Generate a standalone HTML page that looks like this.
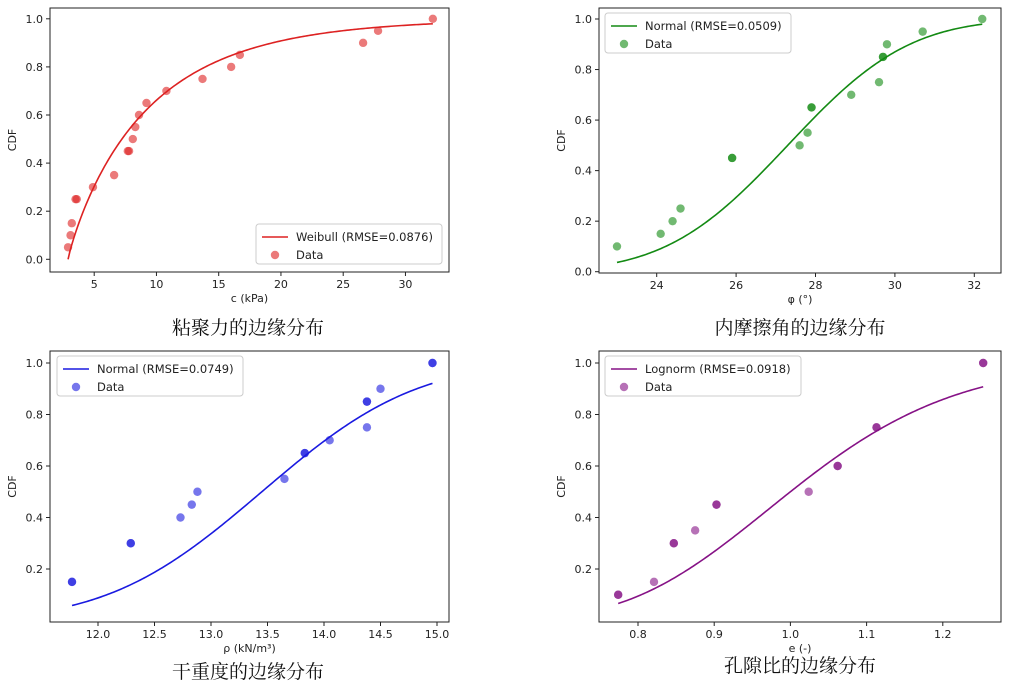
<!DOCTYPE html>
<html><head><meta charset="utf-8"><style>
body{margin:0;background:#fff;width:1010px;height:689px;overflow:hidden}
svg text{font-family:"DejaVu Sans","Liberation Sans",sans-serif}
.cap{font-family:"Noto Serif CJK SC","Liberation Serif",serif;font-size:19px;fill:#111}
</style></head><body>
<svg id="s" width="1010" height="689" xmlns="http://www.w3.org/2000/svg">
<text class="cap" x="248" y="334" text-anchor="middle">粘聚力的边缘分布</text>
<text class="cap" x="800" y="334" text-anchor="middle">内摩擦角的边缘分布</text>
<text class="cap" x="248" y="678" text-anchor="middle">干重度的边缘分布</text>
<text class="cap" x="800" y="672" text-anchor="middle">孔隙比的边缘分布</text>
</svg>
<script>
const p1X=[2.9,3.1,3.2,3.5,3.6,4.9,6.6,7.7,7.8,8.1,8.3,8.6,9.2,10.8,13.7,16,16.7,26.6,27.8,32.2];
const p1Y=[0.05,0.1,0.15,0.25,0.25,0.3,0.35,0.45,0.45,0.5,0.55,0.6,0.65,0.7,0.75,0.8,0.85,0.9,0.95,1.0];
const p2X=[23.0,24.1,24.4,24.6,25.9,25.9,27.6,27.8,27.9,27.9,28.9,29.6,29.7,29.7,29.8,30.7,32.2];
const p2Y=[0.1,0.15,0.2,0.25,0.45,0.45,0.5,0.55,0.65,0.65,0.7,0.75,0.85,0.85,0.9,0.95,1.0];
const p3X=[11.77,11.77,12.29,12.29,12.73,12.83,12.88,13.65,13.83,13.83,14.05,14.38,14.38,14.38,14.5,14.96,14.96];
const p3Y=[0.15,0.15,0.3,0.3,0.4,0.45,0.5,0.55,0.65,0.65,0.7,0.85,0.85,0.75,0.9,1.0,1.0];
const p4X=[0.774,0.774,0.821,0.847,0.847,0.875,0.903,0.903,1.024,1.062,1.062,1.113,1.113,1.253,1.253];
const p4Y=[0.1,0.1,0.15,0.3,0.3,0.35,0.45,0.45,0.5,0.6,0.6,0.75,0.75,1.0,1.0];
const p1XT=[5,10,15,20,25,30], p1YT=[0,0.2,0.4,0.6,0.8,1.0];
const p2XT=[24,26,28,30,32], p2YT=[0,0.2,0.4,0.6,0.8,1.0];
const p3XT=[12.0,12.5,13.0,13.5,14.0,14.5,15.0], p3YT=[0.2,0.4,0.6,0.8,1.0];
const p4XT=[0.8,0.9,1.0,1.1,1.2], p4YT=[0.2,0.4,0.6,0.8,1.0];

const NS="http://www.w3.org/2000/svg", svg=document.getElementById('s');
function mk(t,a,p){const e=document.createElementNS(NS,t);for(const k in a)e.setAttribute(k,a[k]);(p||svg).appendChild(e);return e;}
function erf(x){const s=Math.sign(x);x=Math.abs(x);const t=1/(1+0.3275911*x);const y=1-(((((1.061405429*t-1.453152027)*t)+1.421413741)*t-0.284496736)*t+0.254829592)*t*Math.exp(-x*x);return s*y;}
const ncdf=z=>0.5*(1+erf(z/Math.SQRT2));

function panel(o){
  const g=mk('g',{});
  
  
  const sx=v=>o.x0px+(v-o.x0)*o.xs, sy=v=>o.y0px-(v-o.y0)*o.ys;
  // curve
  let d='';const n=200;
  for(let i=0;i<=n;i++){const v=o.cmin+(o.cmax-o.cmin)*i/n;d+=(i?'L':'M')+sx(v).toFixed(2)+','+sy(o.f(v)).toFixed(2);}
  const c=mk('path',{d:d,fill:'none',stroke:o.col,'stroke-width':1.6},g);
  
  
  o.X.forEach((v,i)=>{const p=mk('circle',{cx:sx(v),cy:sy(o.Y[i]),r:4.2,fill:o.col,'fill-opacity':0.6},g);
    
    });
  const fr=mk('rect',{x:o.L,y:o.T,width:o.R-o.L,height:o.B-o.T,fill:'none',stroke:'#222','stroke-width':1},g);
  
  
  o.XT.forEach(v=>{const x=sx(v);mk('line',{x1:x,x2:x,y1:o.B,y2:o.B+4,stroke:'#222'},g);
    const t=mk('text',{x:x,y:o.B+16,'font-size':11,'text-anchor':'middle',fill:'#222'},g);t.textContent=o.fmtX(v);
    
    });
  o.YT.forEach(v=>{const y=sy(v);mk('line',{x1:o.L-4,x2:o.L,y1:y,y2:y,stroke:'#222'},g);
    const t=mk('text',{x:o.L-7,y:y+4,'font-size':11,'text-anchor':'end',fill:'#222'},g);t.textContent=v.toFixed(1);
    
    });
  const xl=mk('text',{x:(o.L+o.R)/2,y:o.B+30,'font-size':11,'text-anchor':'middle',fill:'#222'},g);xl.textContent=o.xlab;
  
  
  const yl=mk('text',{x:0,y:0,'font-size':11,'text-anchor':'middle',fill:'#222',transform:`translate(${o.L-34},${(o.T+o.B)/2}) rotate(-90)`},g);yl.textContent='CDF';
  
  
  // legend
  const lg=mk('g',{},g);
  
  
  mk('rect',{x:o.lx,y:o.ly,width:o.lw,height:40,rx:3,fill:'#fff',stroke:'#ccc'},lg);
  mk('line',{x1:o.lx+6,x2:o.lx+32,y1:o.ly+13,y2:o.ly+13,stroke:o.col,'stroke-width':1.6},lg);
  mk('circle',{cx:o.lx+19,cy:o.ly+31,r:4.2,fill:o.col,'fill-opacity':0.6},lg);
  const t1=mk('text',{x:o.lx+40,y:o.ly+17,'font-size':11.5,fill:'#222'},lg);t1.textContent=o.leg;
  
  
  const t2=mk('text',{x:o.lx+40,y:o.ly+35,'font-size':11.5,fill:'#222'},lg);t2.textContent='Data';
  
  
}
panel({name:'cohesion-chart',L:50,R:449,T:8,B:272,x0:5,x0px:94.2,xs:12.45,y0:0,y0px:259.3,ys:240.5,
  X:p1X,Y:p1Y,XT:p1XT,YT:p1YT,fmtX:v=>String(v),col:'#dd2222',cmin:2.9,cmax:32.2,
  f:v=>1-Math.exp(-Math.pow(Math.max(v-2.9,0)/6.5,0.9)),xlab:'c (kPa)',leg:'Weibull (RMSE=0.0876)',lx:256,ly:224,lw:186});
panel({name:'friction-chart',L:599,R:1001,T:8,B:273,x0:24,x0px:656.7,xs:39.7,y0:0,y0px:271.7,ys:252.7,
  X:p2X,Y:p2Y,XT:p2XT,YT:p2YT,fmtX:v=>String(v),col:'#138a13',cmin:23,cmax:32.2,
  f:v=>ncdf((v-27.3)/2.4),xlab:'φ (°)',leg:'Normal (RMSE=0.0509)',lx:605,ly:13,lw:186});
panel({name:'density-chart',L:50,R:449,T:351,B:622,x0:12,x0px:98,xs:113,y0:1,y0px:363,ys:257.5,
  X:p3X,Y:p3Y,XT:p3XT,YT:p3YT,fmtX:v=>v.toFixed(1),col:'#1a1ae0',cmin:11.77,cmax:14.96,
  f:v=>ncdf((v-13.45)/1.07),xlab:'ρ (kN/m³)',leg:'Normal (RMSE=0.0749)',lx:57,ly:356,lw:186});
panel({name:'void-ratio-chart',L:599,R:1001,T:351,B:622,x0:0.8,x0px:638,xs:762,y0:1,y0px:363,ys:257.5,
  X:p4X,Y:p4Y,XT:p4XT,YT:p4YT,fmtX:v=>v.toFixed(1),col:'#861286',cmin:0.774,cmax:1.253,
  f:v=>ncdf(Math.log(v)/0.17),xlab:'e (-)',leg:'Lognorm (RMSE=0.0918)',lx:605,ly:356,lw:196});
</script>
</body></html>
